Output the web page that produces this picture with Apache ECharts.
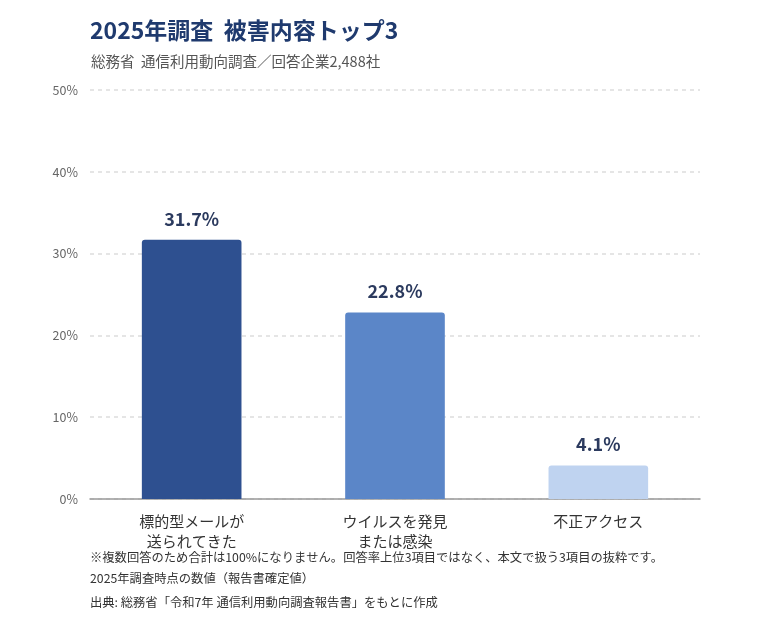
<!DOCTYPE html>
<html>
<head>
<meta charset="utf-8">
<script src="https://cdn.jsdelivr.net/npm/echarts@6/dist/echarts.min.js"></script>
<style>
  html, body { margin: 0; padding: 0; background: #fff; }
  #chart { width: 760px; height: 640px; }
</style>
</head>
<body>
<div id="chart"></div>
<script>
const FONT = "'Noto Sans CJK JP', sans-serif"

const categories = ['標的型メールが\n送られてきた', 'ウイルスを発見\nまたは感染', '不正アクセス']
const values = [31.7, 22.8, 4.1]
const barColors = ['#2e5090', '#5b86c8', '#bfd3f0']
const notes = [
    '※複数回答のため合計は100%になりません。回答率上位3項目ではなく、本文で扱う3項目の抜粋です。',
    '2025年調査時点の数値（報告書確定値）',
    '出典: 総務省「令和7年 通信利用動向調査報告書」をもとに作成'
]
const noteY = [557, 578, 602]

const chart = echarts.init(document.getElementById('chart'), null, {renderer: 'canvas'})

const options = {
    backgroundColor: '#fff',
    textStyle: {fontFamily: FONT},
    title: [{
        text: '2025年調査  被害内容トップ3',
        left: 85,
        top: 14,
        textStyle: {fontFamily: FONT, fontSize: 23, fontWeight: 'bold', color: '#1f3a6e'}
    }, {
        text: '総務省  通信利用動向調査／回答企業2,488社',
        left: 86,
        top: 49,
        textStyle: {fontFamily: FONT, fontSize: 14.5, fontWeight: 'normal', color: '#555'}
    }],
    grid: {left: 90, right: 60, top: 90, bottom: 141, containLabel: false},
    xAxis: {
        type: 'category',
        data: categories,
        axisLine: {lineStyle: {color: '#999', width: 1.5}},
        axisTick: {show: false},
        axisLabel: {fontFamily: FONT, fontSize: 15, color: '#333', lineHeight: 19.5, margin: 13}
    },
    yAxis: {
        type: 'value',
        min: 0,
        max: 50,
        interval: 10,
        axisLine: {show: false},
        axisTick: {show: false},
        axisLabel: {formatter: '{value}%', fontFamily: FONT, fontSize: 12.5, color: '#666', margin: 12},
        splitLine: {lineStyle: {color: '#ddd', type: [4, 4], width: 1.5}}
    },
    series: [{
        type: 'bar',
        barWidth: '49%',
        data: values.map((v, i) => ({value: v, itemStyle: {color: barColors[i]}})),
        itemStyle: {borderRadius: [3, 3, 0, 0]},
        label: {
            show: true,
            position: 'top',
            distance: 12,
            formatter: p => p.value.toFixed(1) + '%',
            fontFamily: FONT,
            fontSize: 18,
            fontWeight: 'bold',
            color: '#2b3a5e'
        }
    }],
    graphic: notes.map((t, i) => ({
        type: 'text',
        x: 90,
        y: noteY[i],
        style: {text: t, fontFamily: FONT, fontSize: 12.3, fill: '#333', verticalAlign: 'middle'}
    }))
}

chart.setOption(options)
</script>
</body>
</html>
